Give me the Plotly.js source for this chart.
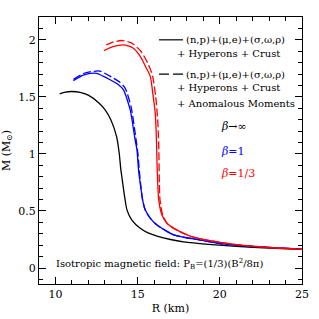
<!DOCTYPE html>
<html><head><meta charset="utf-8">
<script src="https://cdn.plot.ly/plotly-3.0.1.min.js"></script>
<style>html,body{margin:0;padding:0;background:#fff}#c{width:319px;height:319px}</style>
</head><body><div id="c"></div>
<script>
// beta -> infinity (black), solid: without anomalous moments
const R_inf = [10.26,10.6,11.0,11.5,12.0,12.66,13.0,13.37,13.72,13.88,13.98,14.04,14.12,14.24,14.35,14.65,15.16,15.6,16.18,17.0,17.8,19.3,21.0,23.0,25.0];
const M_inf = [1.527,1.542,1.547,1.540,1.515,1.445,1.39,1.30,1.152,1.006,0.86,0.80,0.713,0.596,0.51,0.42,0.348,0.31,0.28,0.25,0.23,0.208,0.19,0.175,0.163];
// beta = 1 (blue) solid
const R_b1 = [11.09,11.7,12.11,12.5,13.33,13.8,14.14,14.55,14.85,14.96,15.06,15.16,15.3,15.46,15.8,16.18,17.2,18.8,20.0,22.0,25.0];
const M_b1 = [1.643,1.69,1.705,1.706,1.65,1.61,1.561,1.386,1.12,1.035,0.85,0.74,0.60,0.51,0.43,0.377,0.29,0.245,0.215,0.19,0.165];
// beta = 1 (blue) dashed: with anomalous moments
const R_b1a = [11.1,11.7,12.2,12.7,13.4,13.9,14.25,14.62,14.9,15.02,15.1,15.18,15.3,15.46,15.8,16.18,17.2,18.8,20.0,22.0,25.0];
const M_b1a = [1.655,1.705,1.722,1.726,1.675,1.63,1.575,1.40,1.13,1.0,0.86,0.74,0.60,0.51,0.43,0.377,0.29,0.245,0.215,0.19,0.165];
// beta = 1/3 (red) solid
const R_b3 = [12.96,13.5,14.14,14.7,15.16,15.5,15.77,15.95,16.07,16.15,16.18,16.22,16.28,16.48,16.8,17.2,18.2,19.4,21.0,23.0,25.0];
const M_b3 = [1.906,1.94,1.956,1.93,1.854,1.76,1.68,1.5,1.36,1.1,0.918,0.75,0.60,0.465,0.39,0.348,0.28,0.24,0.205,0.18,0.165];
// beta = 1/3 (red) dashed
const R_b3a = [13.09,13.5,14.04,14.6,15.2,15.6,15.9,16.1,16.22,16.28,16.3,16.32,16.36,16.52,16.8,17.2,18.2,19.4,21.0,23.0,25.0];
const M_b3a = [1.956,1.98,1.994,1.975,1.90,1.80,1.69,1.5,1.3,1.1,0.95,0.75,0.60,0.465,0.39,0.348,0.28,0.24,0.205,0.18,0.165];

const xTicks = [10,15,20,25];
const yTicks = [0,0.5,1,1.5,2];
const yTickText = ['0','0.5','1','1.5','2'];

const FONT = 'DejaVu Serif, Liberation Serif, serif';
const dash = '8px,3px';
function tr(x,y,color,d){return {x:x,y:y,type:'scatter',mode:'lines',line:{color:color,width:1.3,dash:d,shape:'spline',smoothing:0.6},hoverinfo:'skip'};}
const data = [
  tr(R_inf,M_inf,'#000000','solid'),
  tr(R_b1,M_b1,'#0000ff','solid'),
  tr(R_b1a,M_b1a,'#0000ff',dash),
  tr(R_b3,M_b3,'#ff0000','solid'),
  tr(R_b3a,M_b3a,'#ff0000',dash)
];
const axBase = {showgrid:false,zeroline:false,showline:true,linecolor:'#000',linewidth:1,mirror:'allticks',ticks:'inside',ticklen:7,tickwidth:1,tickcolor:'#000',tickfont:{family:FONT,size:11,color:'#000'}};
const ann = (x,y,t,c,s)=>({x:x,y:y,xref:'x',yref:'y',text:t,showarrow:false,xanchor:'left',yanchor:'middle',font:{family:FONT,size:s||10,color:c||'#000'}});
const layout = {
  width:319,height:319,margin:{l:39,r:17,t:17,b:35},
  paper_bgcolor:'#fff',plot_bgcolor:'#fff',showlegend:false,
  xaxis:Object.assign({},axBase,{range:[9,25],tickvals:xTicks,ticktext:xTicks.map(String),
    minor:{ticks:'inside',ticklen:4,dtick:1,tick0:9,tickcolor:'#000'},
    title:{text:'R (km)',font:{family:FONT,size:11,color:'#000'},standoff:4}}),
  yaxis:Object.assign({},axBase,{range:[-0.14,2.2],tickvals:yTicks,ticktext:yTickText,
    minor:{ticks:'inside',ticklen:4,dtick:0.1,tick0:0,tickcolor:'#000'},
    title:{text:'M (M<sub>\u2299</sub>)',font:{family:FONT,size:11,color:'#000'},standoff:6}}),
  shapes:[
    {type:'line',xref:'x',yref:'y',x0:16.3,x1:17.76,y0:2.0,y1:2.0,line:{color:'#000',width:1.2}},
    {type:'line',xref:'x',yref:'y',x0:16.3,x1:17.76,y0:1.70,y1:1.70,line:{color:'#000',width:1.2,dash:'10px,4px'}}
  ],
  annotations:[
    ann(17.85,2.0,'(n,p)+(\u03bc,e)+(\u03c3,\u03c9,\u03c1)'),
    ann(17.3,1.877,'+ Hyperons + Crust'),
    ann(17.85,1.70,'(n,p)+(\u03bc,e)+(\u03c3,\u03c9,\u03c1)'),
    ann(17.3,1.579,'+ Hyperons + Crust'),
    ann(17.3,1.439,'+ Anomalous Moments'),
    ann(19.95,1.237,'<i>\u03b2</i>\u2192\u221e','#000',11),
    ann(19.95,1.018,'<i>\u03b2</i>=1','#0000ff',11),
    ann(19.95,0.825,'<i>\u03b2</i>=1/3','#ff0000',11),
    ann(9.9,0.035,'Isotropic magnetic field: P<sub>B</sub>=(1/3)(B<sup>2</sup>/8\u03c0)')
  ]
};
Plotly.newPlot('c',data,layout,{staticPlot:true,displayModeBar:false});
</script></body></html>
